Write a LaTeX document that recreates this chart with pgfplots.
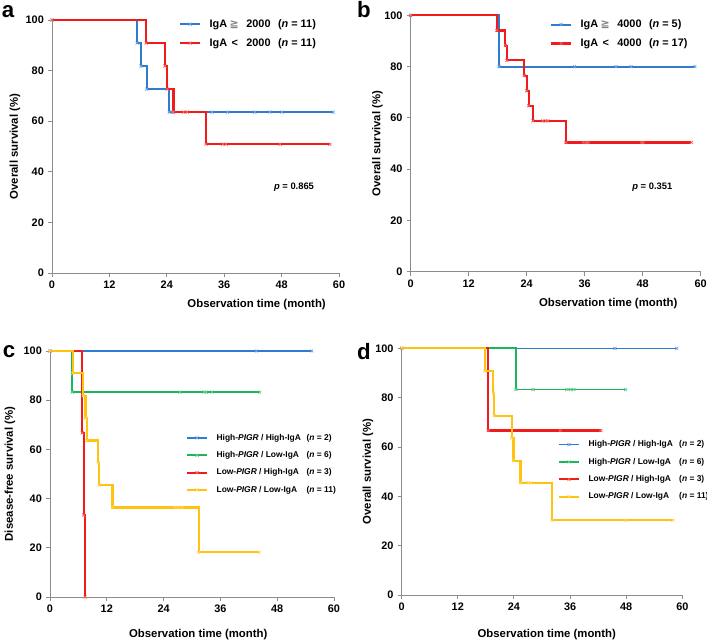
\documentclass[border=0pt]{standalone}
\usepackage{pgfplots}
\pgfplotsset{compat=1.18}
\usepackage{fontspec}
\setmainfont{Liberation Sans}
\newfontfamily\symf{DejaVu Sans}
\definecolor{kmblue}{HTML}{2E7BD0}
\definecolor{kmred}{HTML}{F21B1B}
\definecolor{kmgreen}{HTML}{1DB45A}
\definecolor{kmyellow}{HTML}{FFC20E}
\definecolor{axgray}{HTML}{8C8C8C}

\pgfplotsset{
 kmaxis/.style={
  scale only axis, anchor=south west,
  xmin=0, xmax=60, ymin=0, ymax=100,
  xtick={0,12,...,60}, ytick={0,20,...,100},
  axis lines*=left,
  axis line style={axgray, line width=0.8pt},
  tick style={axgray, line width=0.8pt},
  tick align=outside, major tick length=0.12cm,
  /pgf/number format/assume math mode=true,
  tick label style={font=\bfseries\fontsize{9.3}{10}\selectfont, black},
  label style={font=\bfseries\fontsize{9.7}{12}\selectfont},
  clip=false,
  legend cell align=left,
 },
 km/.style 2 args={const plot, color=#1, line width=#2, mark=x, mark size=1.8pt,
  mark options={solid, line width=0.6pt, draw=#1!70}},
}

\begin{document}
\begin{tikzpicture}
\useasboundingbox (0,0) rectangle (21.21,19.26);

% ===== panel a =====
\begin{axis}[kmaxis, at={(1.56cm,11.07cm)}, width=8.61cm, height=7.59cm,
 xlabel={Observation time (month)}, ylabel={Overall survival (\%)},
 xlabel style={at={(axis description cs:0.713,-0.126)}, anchor=center},
 ylabel style={at={(axis description cs:-0.129,0.5)}, anchor=center},
 legend style={draw=none, fill=none, inner sep=0pt, at={(0.442,1.01)}, anchor=north west,
  font=\bfseries\fontsize{9.3}{10}\selectfont,
  nodes={inner sep=1pt, text height=7pt, text depth=2pt}, row sep=5.2pt,
  /tikz/every odd column/.append style={column sep=0.22cm}},
]
\addplot[km={kmblue}{1.8pt}] coordinates {(0,100)(17.8,90.9)(18.6,81.8)(19.8,72.7)(24.5,63.6)(25.2,63.6)(33.5,63.6)(36.7,63.6)(42.4,63.6)(45.5,63.6)(48.1,63.6)(58.8,63.6)};
\addlegendentry{\makebox[0.6cm][l]{IgA}\makebox[0.5cm][l]{\textcolor{gray}{\symf ≧}}\makebox[0.95cm][l]{2000}(\textit{n} = 11)}
\addplot[km={kmred}{1.8pt}] coordinates {(0,100)(19.7,90.9)(23.6,81.8)(24.1,72.7)(25.4,63.6)(27.5,63.6)(28.3,63.6)(32.2,50.9)(35.7,50.9)(36.4,50.9)(47.7,50.9)(58.1,50.9)};
\addlegendentry{\makebox[0.6cm][l]{IgA}\makebox[0.5cm][l]{\,<}\makebox[0.95cm][l]{2000}(\textit{n} = 11)}
\node[font=\bfseries\fontsize{8}{9}\selectfont] at (axis cs:50.6,34) {\textit{p} = 0.865};
\end{axis}

% ===== panel b =====
\begin{axis}[kmaxis, at={(12.32cm,11.11cm)}, width=8.70cm, height=7.69cm,
 xlabel={Observation time (month)}, ylabel={Overall survival (\%)},
 xlabel style={at={(axis description cs:0.681,-0.123)}, anchor=center},
 ylabel style={at={(axis description cs:-0.115,0.5)}, anchor=center},
 legend style={draw=none, fill=none, inner sep=0pt, at={(0.48,0.99)}, anchor=north west,
  font=\bfseries\fontsize{9.3}{10}\selectfont,
  nodes={inner sep=1pt, text height=7pt, text depth=2pt}, row sep=5.2pt,
  /tikz/every odd column/.append style={column sep=0.22cm}},
]
\addplot[km={kmblue}{1.8pt}] coordinates {(0,100)(18.3,80)(33.9,80)(42.5,80)(45.6,80)(58.8,80)};
\addlegendentry{\makebox[0.6cm][l]{IgA}\makebox[0.5cm][l]{\textcolor{gray}{\symf ≧}}\makebox[0.95cm][l]{4000}(\textit{n} = 5)}
\addplot[km={kmred}{1.8pt}] coordinates {(0,100)(17.8,94.1)(19.6,88.2)(19.9,82.4)(23.5,76.5)(24.0,70.6)(24.4,64.7)(25.3,58.8)(27.3,58.8)(28.0,58.8)(28.4,58.8)(32.1,50.4)(35.7,50.4)(36.3,50.4)(36.7,50.4)(47.8,50.4)(48.1,50.4)(58.1,50.4)};
\addlegendentry{\makebox[0.6cm][l]{IgA}\makebox[0.5cm][l]{\,<}\makebox[0.95cm][l]{4000}(\textit{n} = 17)}
\node[font=\bfseries\fontsize{8}{9}\selectfont] at (axis cs:50,33) {\textit{p} = 0.351};
\end{axis}

% ===== panel c =====
\begin{axis}[kmaxis, at={(1.50cm,1.35cm)}, width=8.52cm, height=7.38cm,
 xlabel={Observation time (month)}, ylabel={Disease-free survival (\%)},
 xlabel style={at={(axis description cs:0.522,-0.152)}, anchor=center},
 ylabel style={at={(axis description cs:-0.141,0.5)}, anchor=center},
 legend style={draw=none, fill=none, inner sep=0pt, at={(0.478,0.669)}, anchor=north west,
  font=\bfseries\fontsize{7.2}{8}\selectfont,
  nodes={inner sep=1pt, text height=5.5pt, text depth=1.5pt}, row sep=5.8pt,
  /tikz/every odd column/.append style={column sep=0.22cm}},
]
\addplot[km={kmblue}{1.2pt}] coordinates {(0,100)(43.6,100)(55.3,100)};
\addlegendentry{\makebox[2.7cm][l]{High-\textit{PIGR} / High-IgA}(\textit{n} = 2)}
\addplot[km={kmgreen}{1.6pt}] coordinates {(0,100)(4.7,83.3)(27.4,83.3)(32.5,83.3)(33.0,83.3)(34.2,83.3)(44.3,83.3)};
\addlegendentry{\makebox[2.7cm][l]{High-\textit{PIGR} / Low-IgA}(\textit{n} = 6)}
\addplot[km={kmred}{1.8pt}] coordinates {(0,100)(6.8,66.7)(7.1,33.3)(7.4,0)};
\addlegendentry{\makebox[2.7cm][l]{Low-\textit{PIGR} / High-IgA}(\textit{n} = 3)}
\addplot[km={kmyellow}{1.8pt}] coordinates {(0,100)(4.8,90.9)(7.0,81.8)(7.5,72.7)(7.8,63.6)(10.2,54.5)(10.4,45.5)(13.2,36.4)(26.4,36.4)(27.0,36.4)(27.8,36.4)(31.4,18.2)(44.2,18.2)};
\addlegendentry{\makebox[2.7cm][l]{Low-\textit{PIGR} / Low-IgA}(\textit{n} = 11)}
\end{axis}

% ===== panel d =====
\begin{axis}[kmaxis, at={(12.05cm,1.41cm)}, width=8.42cm, height=7.40cm,
 xlabel={Observation time (month)}, ylabel={Overall survival (\%)},
 xlabel style={at={(axis description cs:0.517,-0.159)}, anchor=center},
 ylabel style={at={(axis description cs:-0.12,0.5)}, anchor=center},
 legend style={draw=none, fill=none, inner sep=0pt, at={(0.556,0.632)}, anchor=north west,
  font=\bfseries\fontsize{7.2}{8}\selectfont,
  nodes={inner sep=1pt, text height=5.5pt, text depth=1.5pt}, row sep=5.8pt,
  /tikz/every odd column/.append style={column sep=0.22cm}},
]
\addplot[km={kmblue}{1.2pt}] coordinates {(0,100)(45.6,100)(58.8,100)};
\addlegendentry{\makebox[2.72cm][l]{High-\textit{PIGR} / High-IgA}(\textit{n} = 2)}
\addplot[km={kmgreen}{1.6pt}] coordinates {(0,100)(24.4,83.3)(28.1,83.3)(35.3,83.3)(36.1,83.3)(36.8,83.3)(47.9,83.3)};
\addlegendentry{\makebox[2.72cm][l]{High-\textit{PIGR} / Low-IgA}(\textit{n} = 6)}
\addplot[km={kmred}{1.8pt}] coordinates {(0,100)(18.5,66.7)(33.9,66.7)(42.6,66.7)};
\addlegendentry{\makebox[2.72cm][l]{Low-\textit{PIGR} / High-IgA}(\textit{n} = 3)}
\addplot[km={kmyellow}{1.8pt}] coordinates {(0,100)(17.8,90.9)(19.6,81.8)(19.8,72.7)(23.5,63.6)(23.9,54.5)(25.4,45.5)(27.1,45.5)(27.6,45.5)(32.1,30.3)(47.9,30.3)(58.0,30.3)};
\addlegendentry{\makebox[2.72cm][l]{Low-\textit{PIGR} / Low-IgA}(\textit{n} = 11)}
\end{axis}

% panel letters
\node[font=\bfseries\fontsize{19}{19}\selectfont] at (0.24,18.9) {a};
\node[font=\bfseries\fontsize{19}{19}\selectfont] at (10.92,18.96) {b};
\node[font=\bfseries\fontsize{19}{19}\selectfont] at (0.27,8.70) {c};
\node[font=\bfseries\fontsize{19}{19}\selectfont] at (10.92,8.70) {d};
\end{tikzpicture}
\end{document}
